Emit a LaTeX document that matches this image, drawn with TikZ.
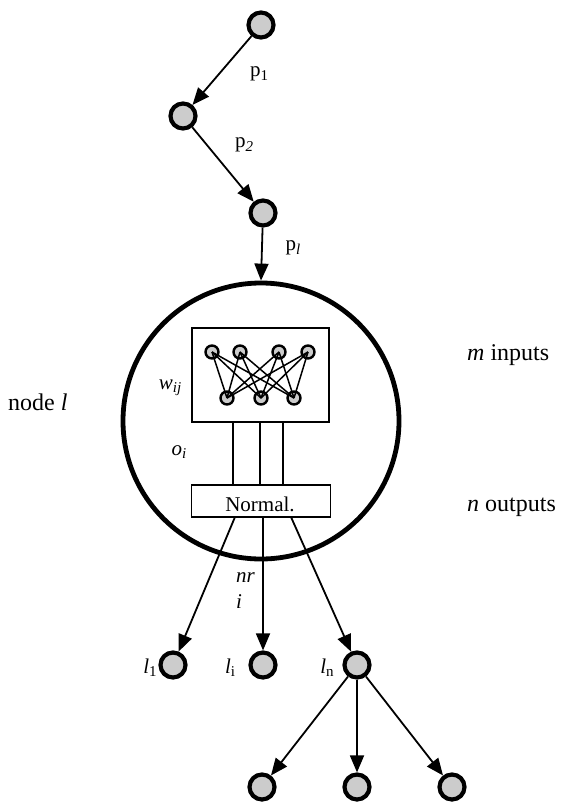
\documentclass[tikz,border=0pt]{standalone}
\usepackage{fontspec}
\setmainfont{Liberation Serif}
\usetikzlibrary{arrows.meta}
% lowered index, a little smaller than the label text
\newcommand\idx[1]{\raisebox{-0.35ex}{\fontsize{15}{15}\selectfont #1}}

\begin{document}
\begin{tikzpicture}[x=1pt,y=-1pt,
  unit/.style={circle,draw=black,line width=4.2pt,fill=gray!40,minimum size=25pt,inner sep=0pt},
  netunit/.style={circle,draw=black,line width=2.4pt,fill=gray!40,minimum size=13pt,inner sep=0pt},
  flow/.style={line width=1.8pt,-{Triangle[length=17pt,width=14pt]}},
  wire/.style={line width=1.2pt},
  lbl/.style={inner sep=0pt,font=\fontsize{21}{24}\selectfont},
  side/.style={inner sep=0pt,font=\fontsize{24}{28}\selectfont}]
\useasboundingbox (0,0) rectangle (564,806);

% path of predecessor nodes
\node[unit] (p1) at (261,25) {};
\node[unit] (p2) at (183,116) {};
\node[unit] (p3) at (263,213) {};

% node l with its internal network
\node[circle,draw=black,line width=4.8pt,minimum size=276pt,inner sep=0pt] (big) at (261,421) {};
\node[draw=black,line width=1.1pt,minimum width=137pt,minimum height=94pt,inner sep=0pt] (net) at (260.5,375) {};
\node[draw=black,line width=1.1pt,minimum width=139pt,minimum height=32pt,inner sep=0pt] (norm) at (261,501) {};
\node[lbl,anchor=base] at (260,511) {Normal.};

\foreach \i/\x in {1/212,2/240,3/279,4/308}
  \node[netunit] (t\i) at (\x,352) {};
\foreach \j/\x in {1/227,2/261,3/294}
  \node[netunit] (b\j) at (\x,398) {};
\foreach \i in {1,...,4}
  \foreach \j in {1,2,3}
    \draw[line width=1.5pt] (t\i.center) -- (b\j.center);

% outputs o_i from the network to the normalisation box
\foreach \x in {233,260,283} {
  \coordinate (up) at (\x,422);
  \coordinate (dn) at (\x,485);
  \draw[wire] (up) -- (dn);
}

% successor nodes
\node[unit] (l1) at (173,665) {};
\node[unit] (li) at (263,665) {};
\node[unit] (ln) at (357,665) {};
\node[unit] (c1) at (262,787) {};
\node[unit] (c2) at (357,787) {};
\node[unit] (c3) at (452,787) {};

\coordinate (o1) at (235,517);
\coordinate (o2) at (263,517);
\coordinate (o3) at (291,517);

% connectors
\draw[flow] (p1) -- (p2);
\draw[flow] (p2) -- (p3);
\draw[flow] (p3) -- (big.north);
\draw[flow] (o1) -- (l1);
\draw[flow] (o2) -- (li);
\draw[flow] (o3) -- (ln);
\draw[flow] (ln) -- (c1);
\draw[flow] (ln) -- (c2);
\draw[flow] (ln) -- (c3);

% labels
\node[lbl] at (259,74) {p\idx{1}};
\node[lbl] at (244,145) {p\idx{\itshape 2}};
\node[lbl] at (293,248) {p\idx{\itshape l}};
\node[lbl] at (170,388) {\textit{w}\idx{\itshape ij}};
\node[lbl] at (179,452) {\textit{o}\idx{\itshape i}};
\node[lbl,anchor=north west,align=left] at (236,572) {\itshape nr\\[2pt]\itshape i};
\node[lbl] at (150,668) {\textit{l}\idx{1}};
\node[lbl] at (230,668) {\textit{l}\idx{i}};
\node[lbl] at (327,668) {\textit{l}\idx{n}};

\node[side,anchor=west] at (8,402) {node \textit{l}};
\node[side,anchor=west] at (467,355) {\textit{m} inputs};
\node[side,anchor=west] at (467,507) {\textit{n} outputs};
\end{tikzpicture}
\end{document}
